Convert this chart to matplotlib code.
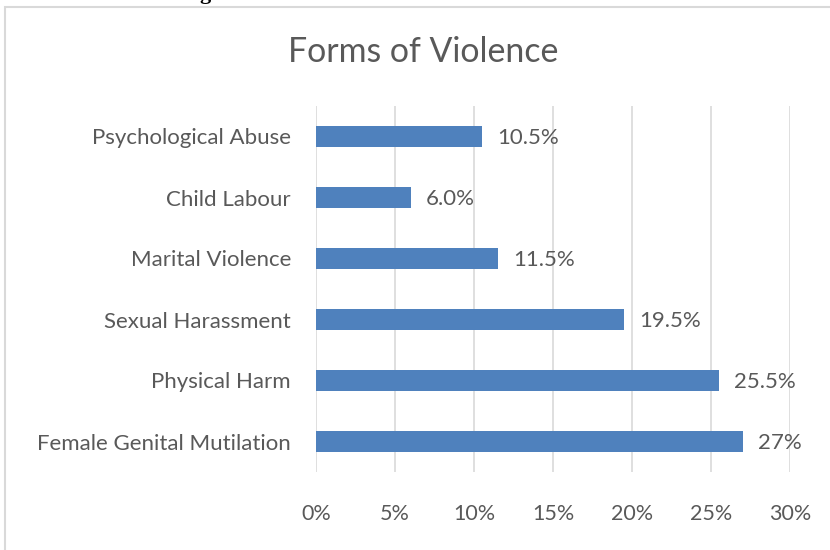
import matplotlib.pyplot as plt
from matplotlib.patches import Rectangle

# data (bottom to top as drawn)
categories = ['Female Genital Mutilation', 'Physical Harm', 'Sexual Harassment',
              'Marital Violence', 'Child Labour', 'Psychological Abuse']
values = [27.0, 25.5, 19.5, 11.5, 6.0, 10.5]
value_labels = ['27%', '25.5%', '19.5%', '11.5%', '6.0%', '10.5%']
xticks = [0, 5, 10, 15, 20, 25, 30]

plt.rcParams['font.family'] = ['Lato', 'DejaVu Sans']
txt = '#595959'

fig = plt.figure(figsize=(8.3, 5.5), dpi=100)
# chart border (cut off at right / bottom like the screenshot)
fig.patches.append(Rectangle((5/830, -0.05), 1.0, 1 - 7/550 + 0.05,
                             transform=fig.transFigure, fill=False,
                             edgecolor='#D9D9D9', linewidth=1.5))
# bit of the document caption above the chart
fig.text(205/830, 1 + 1/550, 'g', ha='center', va='baseline', fontsize=16,
         family='Liberation Serif', weight='bold', color='black')

ax = fig.add_axes([316/830, 1 - 472/550, (790-316)/830, (472-106)/550])
ypos = range(len(categories))
ax.barh(ypos, values, height=0.33, color='#4F81BD', zorder=3)
for y, v, lab in zip(ypos, values, value_labels):
    ax.annotate(lab, (v, y), xytext=(11, -1), textcoords='offset points',
                va='center', ha='left', fontsize=16, color=txt)

ax.set_xlim(0, 30)
ax.set_ylim(-0.5, len(categories) - 0.5)
ax.set_xticks(xticks)
ax.set_xticklabels([f'{t}%' for t in xticks])
ax.set_yticks(list(ypos))
ax.set_yticklabels(categories)
ax.tick_params(axis='x', length=0, pad=23, labelsize=15.5, labelcolor=txt)
ax.tick_params(axis='y', length=0, pad=18, labelsize=16, labelcolor=txt)
ax.grid(axis='x', color='#D9D9D9', linewidth=1.2, zorder=0)
for s in ax.spines.values():
    s.set_visible(False)

fig.text(423/830, 1 - 52/550, 'Forms of Violence', ha='center', va='center',
         fontsize=24.4, color=txt)

fig.savefig('out.png', dpi=100)
